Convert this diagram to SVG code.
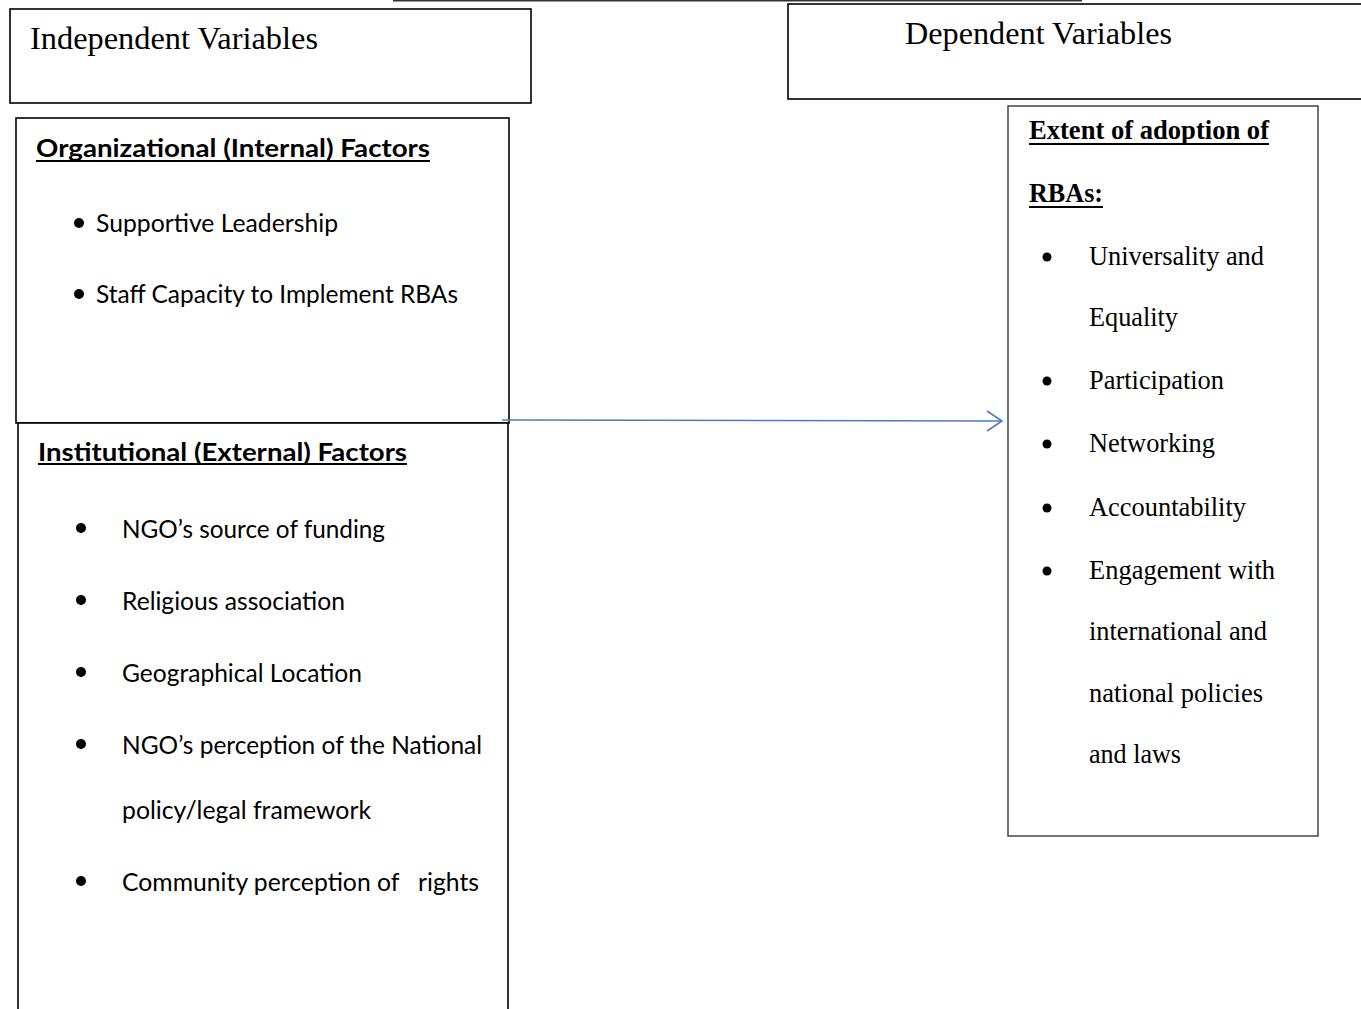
<svg xmlns="http://www.w3.org/2000/svg" width="1361" height="1009" viewBox="0 0 1361 1009">
<style>
.box{fill:#fff;stroke:#000;stroke-width:1.6}
.gbox{fill:#fff;stroke:#444;stroke-width:1.5}
.ser{font-family:"Liberation Serif","Times New Roman",serif;font-size:26.7px;fill:#000}
.big{font-size:32px}
.serb{font-weight:bold}
.san{font-family:Lato,"Liberation Sans",Arial,sans-serif;font-size:25px;fill:#000;white-space:pre}
.sanb{font-weight:bold}
.ul{stroke:#000;stroke-width:2}
.dot{fill:#000}
.conn{stroke:#4a7ebb;stroke-width:1.6;fill:none}
</style>
<rect width="1361" height="1009" fill="#fff"/>
<line x1="393" y1="0.8" x2="1082" y2="0.8" stroke="#333" stroke-width="1.6"/>

<g id="independent">
<rect class="box" x="10" y="9" width="521" height="94"/>
<text class="ser big" x="30" y="49" textLength="288" lengthAdjust="spacingAndGlyphs">Independent Variables</text>
</g>

<g id="dependent">
<rect class="box" x="788" y="4" width="620" height="95"/>
<text class="ser big" x="905" y="44" textLength="267" lengthAdjust="spacingAndGlyphs">Dependent Variables</text>
</g>

<g id="organizational">
<rect class="box" x="16" y="118" width="493" height="305"/>
<text class="san sanb" x="36" y="157" textLength="394" lengthAdjust="spacingAndGlyphs">Organizational (Internal) Factors</text>
<line class="ul" x1="36" y1="161" x2="430" y2="161"/>
<circle class="dot" cx="79" cy="223" r="5"/>
<text class="san" x="96" y="232" textLength="242" lengthAdjust="spacingAndGlyphs">Supportive Leadership</text>
<circle class="dot" cx="79" cy="294" r="5"/>
<text class="san" x="96" y="303" textLength="362" lengthAdjust="spacingAndGlyphs">Staff Capacity to Implement RBAs</text>
</g>

<g id="institutional">
<rect class="box" x="18" y="423" width="490" height="600"/>
<text class="san sanb" x="38" y="461" textLength="369" lengthAdjust="spacingAndGlyphs">Institutional (External) Factors</text>
<line class="ul" x1="38" y1="464" x2="407" y2="464"/>
<circle class="dot" cx="81" cy="528" r="5"/>
<text class="san" x="122" y="538" textLength="263" lengthAdjust="spacingAndGlyphs">NGO’s source of funding</text>
<circle class="dot" cx="81" cy="600" r="5"/>
<text class="san" x="122" y="610" textLength="223" lengthAdjust="spacingAndGlyphs">Religious association</text>
<circle class="dot" cx="81" cy="672" r="5"/>
<text class="san" x="122" y="682" textLength="240" lengthAdjust="spacingAndGlyphs">Geographical Location</text>
<circle class="dot" cx="81" cy="744" r="5"/>
<text class="san" x="122" y="754" textLength="360" lengthAdjust="spacingAndGlyphs">NGO’s perception of the National</text>
<text class="san" x="122" y="819" textLength="249" lengthAdjust="spacingAndGlyphs">policy/legal framework</text>
<circle class="dot" cx="81" cy="881" r="5"/>
<text class="san" x="122" y="891" textLength="357" lengthAdjust="spacingAndGlyphs">Community perception of   rights</text>
</g>

<g id="extent">
<rect class="gbox" x="1008" y="106" width="310" height="730"/>
<text class="ser serb" x="1029" y="139" textLength="240" lengthAdjust="spacingAndGlyphs">Extent of adoption of</text>
<line class="ul" x1="1029" y1="144" x2="1269" y2="144"/>
<text class="ser serb" x="1029" y="202" textLength="74" lengthAdjust="spacingAndGlyphs">RBAs:</text>
<line class="ul" x1="1029" y1="207" x2="1103" y2="207"/>
<circle class="dot" cx="1047" cy="257" r="4.5"/>
<text class="ser" x="1089" y="265" textLength="175" lengthAdjust="spacingAndGlyphs">Universality and</text>
<text class="ser" x="1089" y="326" textLength="89" lengthAdjust="spacingAndGlyphs">Equality</text>
<circle class="dot" cx="1047" cy="381" r="4.5"/>
<text class="ser" x="1089" y="389" textLength="135" lengthAdjust="spacingAndGlyphs">Participation</text>
<circle class="dot" cx="1047" cy="444" r="4.5"/>
<text class="ser" x="1089" y="452" textLength="126" lengthAdjust="spacingAndGlyphs">Networking</text>
<circle class="dot" cx="1047" cy="508" r="4.5"/>
<text class="ser" x="1089" y="516" textLength="157" lengthAdjust="spacingAndGlyphs">Accountability</text>
<circle class="dot" cx="1047" cy="571" r="4.5"/>
<text class="ser" x="1089" y="579" textLength="186" lengthAdjust="spacingAndGlyphs">Engagement with</text>
<text class="ser" x="1089" y="640" textLength="178" lengthAdjust="spacingAndGlyphs">international and</text>
<text class="ser" x="1089" y="702" textLength="174" lengthAdjust="spacingAndGlyphs">national policies</text>
<text class="ser" x="1089" y="763" textLength="92" lengthAdjust="spacingAndGlyphs">and laws</text>
</g>

<g id="connectors">
<line class="conn" x1="502" y1="420" x2="1002" y2="421"/>
<polyline class="conn" points="987,411 1002,421 987,431"/>
</g>
</svg>
